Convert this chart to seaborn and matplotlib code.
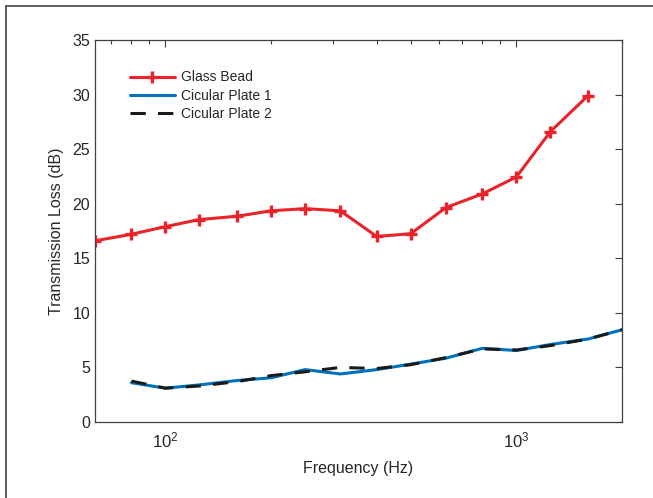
import matplotlib
matplotlib.use("Agg")
import matplotlib.pyplot as plt
from matplotlib.lines import Line2D
import seaborn as sns
import pandas as pd
import numpy as np

freq = [63, 80, 100, 125, 160, 200, 250, 315, 400, 500, 630, 800, 1000, 1250, 1600, 2000]
glass_bead = [16.6, 17.2, 17.9, 18.55, 18.85, 19.35, 19.55, 19.35, 17.0, 17.25, 19.65, 20.9, 22.45, 26.6, 29.9]
plate1 = [3.6, 3.1, 3.4, 3.8, 4.05, 4.8, 4.4, 4.8, 5.3, 5.85, 6.75, 6.55, 7.1, 7.6, 8.45]
plate2 = [3.75, 3.1, 3.3, 3.7, 4.25, 4.6, 5.0, 4.9, 5.25, 5.9, 6.7, 6.6, 7.0, 7.6, 8.45]

sns.set_theme(style="white")
plt.rcParams['font.family'] = ['Liberation Sans', 'DejaVu Sans']

red = '#E8232A'
blue = '#0072BD'
axc = '#404040'

fig = plt.figure(figsize=(6.53, 4.98), dpi=100)
ax = fig.add_axes([95/653, 76/498, (622-95)/653, (422-40)/498])

df_gb = pd.DataFrame({'f': freq[:len(glass_bead)], 'tl': glass_bead})
df_p1 = pd.DataFrame({'f': freq[1:1+len(plate1)], 'tl': plate1})
df_p2 = pd.DataFrame({'f': freq[1:1+len(plate2)], 'tl': plate2})

sns.lineplot(data=df_gb, x='f', y='tl', ax=ax, color=red, lw=2.2, marker='+',
             markersize=8, markeredgewidth=2.4, markeredgecolor=red, label='Glass Bead')
sns.lineplot(data=df_p1, x='f', y='tl', ax=ax, color=blue, lw=2.2, label='Cicular Plate 1')
sns.lineplot(data=df_p2, x='f', y='tl', ax=ax, color='#1a1a1a', lw=2.2, label='Cicular Plate 2')
ax.lines[-1].set_dashes([5, 4])

ax.set_xscale('log')
ax.set_xlim(63, 2000)
ax.set_ylim(0, 35)
ax.set_yticks(np.arange(0, 36, 5))
ax.set_xticks([100, 1000])
ax.tick_params(axis='both', which='both', direction='in', top=True, right=True,
               colors=axc, labelcolor='#262626', labelsize=11.5)
ax.tick_params(axis='x', which='major', labelsize=12, pad=6)
ax.tick_params(which='major', length=5, width=0.8)
ax.tick_params(which='minor', length=3, width=0.8)
for s in ax.spines.values():
    s.set_color(axc)
    s.set_linewidth(0.9)
ax.set_xlabel('Frequency (Hz)', fontsize=11.5, color='#262626', labelpad=8)
ax.set_ylabel('Transmission Loss (dB)', fontsize=11.5, color='#262626', labelpad=6)

handles = [Line2D([], [], color=red, lw=2.2, marker='+', markersize=8, markeredgewidth=2.4),
           Line2D([], [], color=blue, lw=2.2),
           Line2D([], [], color='#1a1a1a', lw=2.2, dashes=[5, 4])]
ax.legend(handles, ['Glass Bead', 'Cicular Plate 1', 'Cicular Plate 2'], loc='upper left',
          bbox_to_anchor=(0.055, 0.935), frameon=False, fontsize=10, handlelength=3.3,
          handletextpad=0.4, labelspacing=0.3, borderaxespad=0)

fig.add_artist(Line2D([6/653, 6/653], [0, 1 - 6/498], transform=fig.transFigure, color='#444444', lw=1.2))
fig.add_artist(Line2D([6/653, 1], [1 - 6/498, 1 - 6/498], transform=fig.transFigure, color='#444444', lw=1.2))

fig.savefig('out.png', dpi=100)
